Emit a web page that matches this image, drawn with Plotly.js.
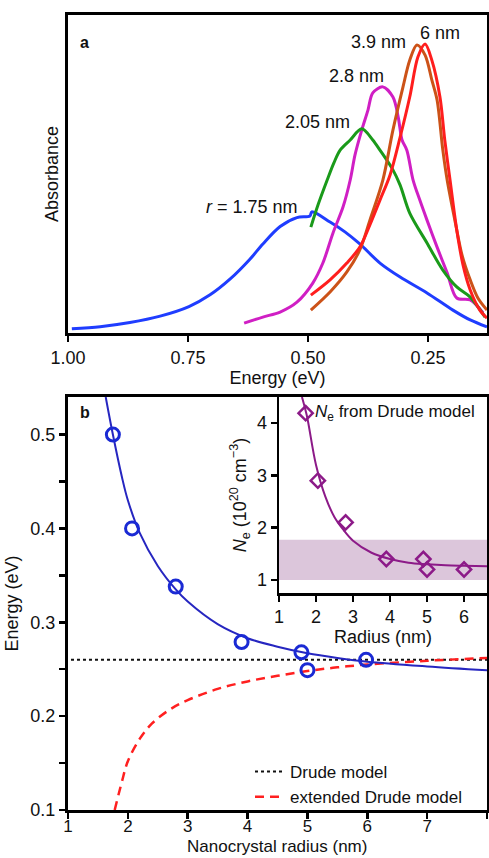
<!DOCTYPE html>
<html>
<head>
<meta charset="utf-8">
<script src="https://cdn.plot.ly/plotly-3.0.1.min.js"></script>
<style>html,body{margin:0;padding:0;background:#fff;}#chart{width:489px;height:858px;}</style>
</head>
<body>
<div id="chart"></div>
<script>
// ---- Panel a: absorbance spectra (energy in eV, absorbance in arbitrary units) ----
const e175 = [0.992,0.933,0.871,0.808,0.748,0.704,0.662,0.621,0.594,0.558,0.523,0.496,0.492,0.454,0.423,0.392,0.350,0.308,0.252,0.198,0.162,0.127];
const a175 = [1.3,2.0,3.3,5.3,8.3,12.0,17.0,23.2,28.0,33.5,36.3,36.8,38.1,34.9,31.8,28.0,22.0,17.6,12.6,7.2,4.1,1.9];

const e205 = [0.494,0.479,0.460,0.446,0.433,0.412,0.388,0.365,0.350,0.323,0.308,0.288,0.252,0.219,0.190,0.162,0.131];
const a205 = [33.3,40.3,48.1,53.5,57.5,60.7,64.2,60.7,57.5,51.3,46.5,37.7,28.3,19.8,14.5,11.3,5.0];

const e28 = [0.633,0.594,0.558,0.523,0.490,0.469,0.448,0.427,0.412,0.402,0.388,0.375,0.365,0.344,0.323,0.312,0.304,0.294,0.281,0.267,0.252,0.231,0.210,0.190,0.162,0.135];
const a28 = [3.1,5.0,6.6,9.7,15.7,22.0,31.4,39.6,48.1,56.0,63.8,70.1,75.5,77.4,74.2,67.9,60.7,57.5,48.1,41.8,35.5,27.0,18.9,11.0,10.4,6.3];

const e39 = [0.494,0.454,0.419,0.392,0.371,0.344,0.323,0.302,0.288,0.273,0.256,0.242,0.231,0.219,0.210,0.194,0.179,0.162,0.146,0.127];
const a39 = [7.2,12.9,19.2,26.1,35.5,48.1,63.8,77.4,85.8,90.6,87.4,79.6,73.3,57.5,48.1,35.5,24.5,16.7,11.0,7.2];

const e6 = [0.494,0.454,0.419,0.392,0.371,0.350,0.329,0.308,0.288,0.271,0.256,0.242,0.225,0.215,0.204,0.190,0.177,0.162,0.142,0.127];
const a6 = [11.9,16.7,22.0,27.0,34.0,41.8,49.7,61.6,74.2,86.8,90.9,85.8,74.2,60.7,48.1,32.4,21.4,13.5,7.2,4.7];

const xTicksA = [1.0, 0.75, 0.5, 0.25];

// ---- Panel b: LSPR energy vs radius ----
const rMeas = [1.75, 2.07, 2.8, 3.9, 4.9, 5.0, 5.98];
const eMeas = [0.50, 0.40, 0.338, 0.279, 0.268, 0.249, 0.26];

const rFit = [1.63,1.75,1.9,2.0,2.2,2.5,2.8,3.0,3.5,4.0,4.5,5.0,5.5,6.0,7.0,8.0];
const eFit = [0.54,0.50,0.455,0.43,0.395,0.36,0.335,0.322,0.298,0.283,0.274,0.267,0.262,0.258,0.253,0.249];

const rDrude = [1.05, 8];
const eDrude = [0.26, 0.26];

const rExt = [1.78,1.9,2.0,2.2,2.4,2.7,3.0,3.5,4.0,4.5,5.0,5.5,6.0,7.0,8.0];
const eExt = [0.10,0.13,0.152,0.176,0.192,0.207,0.217,0.229,0.237,0.243,0.248,0.252,0.255,0.259,0.262];

// ---- Inset: carrier density ----
const rNe = [1.72, 2.05, 2.8, 3.9, 4.9, 5.0, 6.0];
const vNe = [4.19, 2.9, 2.1, 1.4, 1.4, 1.2, 1.2];
const rNeFit = [1.62,1.75,2.0,2.25,2.5,2.75,3.0,3.5,4.0,4.5,5.0,5.5,6.0,6.62];
const vNeFit = [4.5,4.15,3.2,2.6,2.2,1.95,1.75,1.52,1.40,1.33,1.30,1.28,1.27,1.26];
const bandNe = [1.0, 1.77];

const FONT = 'Liberation Sans, Arial, sans-serif';
const fs = 18;

function spec(x, y, color) {
  return {x: x, y: y, type: 'scatter', mode: 'lines', xaxis: 'x', yaxis: 'y',
    line: {color: color, width: 3, shape: 'spline', smoothing: 0.9}, showlegend: false, hoverinfo: 'skip'};
}

const traces = [
  spec(e175, a175, '#1f3dff'),
  spec(e28, a28, '#d01fc4'),
  spec(e205, a205, '#1a9a1a'),
  spec(e39, a39, '#cc5218'),
  spec(e6, a6, '#ff1e1e'),
  {x: rDrude, y: eDrude, type: 'scatter', mode: 'lines', xaxis: 'x2', yaxis: 'y2',
   name: 'Drude model', line: {color: '#111', width: 2, dash: 'dot'}},
  {x: rExt, y: eExt, type: 'scatter', mode: 'lines', xaxis: 'x2', yaxis: 'y2',
   name: 'extended Drude model', line: {color: '#ff2020', width: 2.5, dash: '9px,6px', shape: 'spline'}},
  {x: rFit, y: eFit, type: 'scatter', mode: 'lines', xaxis: 'x2', yaxis: 'y2',
   line: {color: '#2626c0', width: 2, shape: 'spline'}, showlegend: false},
  {x: rMeas, y: eMeas, type: 'scatter', mode: 'markers', xaxis: 'x2', yaxis: 'y2',
   marker: {symbol: 'circle-open', size: 13, color: '#1a2ad4', line: {width: 3, color: '#1a2ad4'}}, showlegend: false},
  {x: rNeFit, y: vNeFit, type: 'scatter', mode: 'lines', xaxis: 'x3', yaxis: 'y3',
   line: {color: '#8c1a88', width: 2, shape: 'spline'}, showlegend: false},
  {x: rNe, y: vNe, type: 'scatter', mode: 'markers', xaxis: 'x3', yaxis: 'y3',
   marker: {symbol: 'diamond-open', size: 11, color: '#8c1a88', line: {width: 2.5, color: '#8c1a88'}}, showlegend: false}
];

const axBase = {showline: true, linecolor: '#000', linewidth: 3, mirror: true, showgrid: false, zeroline: false,
  ticks: 'outside', ticklen: 6, tickwidth: 2.5, tickcolor: '#000',
  tickfont: {family: FONT, size: fs, color: '#111'}};

const W = 489, H = 858;
const px = v => v / W, py = v => 1 - v / H;

const layout = {
  width: W, height: H,
  margin: {l: 0, r: 0, t: 0, b: 0},
  paper_bgcolor: '#fff', plot_bgcolor: 'rgba(0,0,0,0)',
  font: {family: FONT, size: fs, color: '#111'},
  xaxis: Object.assign({}, axBase, {domain: [px(68), px(487)], anchor: 'y', range: [1.0, 0.127],
    tickvals: xTicksA, tickformat: '.2f',
    title: {text: 'Energy (eV)', font: {family: FONT, size: fs}, standoff: 4}}),
  yaxis: Object.assign({}, axBase, {domain: [py(333), py(15)], anchor: 'x', range: [0, 100],
    ticks: '', showticklabels: false,
    title: {text: 'Absorbance', font: {family: FONT, size: fs}, standoff: 2}}),
  xaxis2: Object.assign({}, axBase, {domain: [px(68), px(487)], anchor: 'y2', range: [1, 8], dtick: 1, tick0: 1,
    tickfont: {family: FONT, size: 17, color: '#111'}, ticklabelstandoff: -7}),
  yaxis2: Object.assign({}, axBase, {domain: [py(810), py(397)], anchor: 'x2', range: [0.1, 0.54], dtick: 0.1, tick0: 0.1,
    tickformat: '.1f',
    minor: {dtick: 0.05, tick0: 0.1, ticks: 'outside', ticklen: 6, tickwidth: 2.5, tickcolor: '#000', showgrid: false},
    title: {text: 'Energy (eV)', font: {family: FONT, size: fs}, standoff: 8}}),
  xaxis3: Object.assign({}, axBase, {domain: [px(279), px(487)], anchor: 'y3', range: [1, 6.62], dtick: 1, tick0: 1,
    linewidth: 2.5,
    title: {text: 'Radius (nm)', font: {family: FONT, size: fs}, standoff: 0}}),
  yaxis3: Object.assign({}, axBase, {domain: [py(593), py(397)], anchor: 'x3', range: [0.75, 4.5], dtick: 1, tick0: 1,
    linewidth: 2.5,
    title: {text: '<i>N</i><sub>e</sub> (10<sup>20</sup> cm<sup>−3</sup>)', font: {family: FONT, size: fs}, standoff: 6}}),
  showlegend: true,
  legend: {x: px(250), y: py(754), xanchor: 'left', yanchor: 'top', bgcolor: 'rgba(0,0,0,0)',
    font: {family: FONT, size: 17, color: '#111'}, tracegroupgap: 0},
  shapes: [
    {type: 'rect', xref: 'x3', yref: 'y3', x0: 1, x1: 6.62, y0: bandNe[0], y1: bandNe[1],
     fillcolor: '#dcc6db', line: {width: 0}, layer: 'below'}
  ],
  annotations: [
    {xref: 'paper', yref: 'paper', x: px(78), y: py(32), text: '<b>a</b>', showarrow: false, xanchor: 'left', font: {family: FONT, size: 16, color: '#111'}},
    {xref: 'paper', yref: 'paper', x: px(78), y: py(413), text: '<b>b</b>', showarrow: false, xanchor: 'left', font: {family: FONT, size: 16, color: '#111'}},
    {xref: 'x', yref: 'y', x: 0.225, y: 94.3, text: '6 nm', showarrow: false},
    {xref: 'x', yref: 'y', x: 0.354, y: 91.5, text: '3.9 nm', showarrow: false},
    {xref: 'x', yref: 'y', x: 0.398, y: 80.8, text: '2.8 nm', showarrow: false},
    {xref: 'x', yref: 'y', x: 0.481, y: 66.4, text: '2.05 nm', showarrow: false},
    {xref: 'x', yref: 'y', x: 0.617, y: 39.6, text: '<i>r</i> = 1.75 nm', showarrow: false},
    {xref: 'paper', yref: 'paper', x: px(313), y: py(413), xanchor: 'left', text: '<i>N</i><sub>e</sub> from Drude model', showarrow: false, font: {family: FONT, size: 17}},
    {xref: 'paper', yref: 'paper', x: px(277), y: 0, xanchor: 'center', yanchor: 'bottom', text: 'Nanocrystal radius (nm)', showarrow: false, font: {family: FONT, size: 17}}
  ]
};

Plotly.newPlot('chart', traces, layout, {staticPlot: true, displayModeBar: false});
</script>
</body>
</html>
